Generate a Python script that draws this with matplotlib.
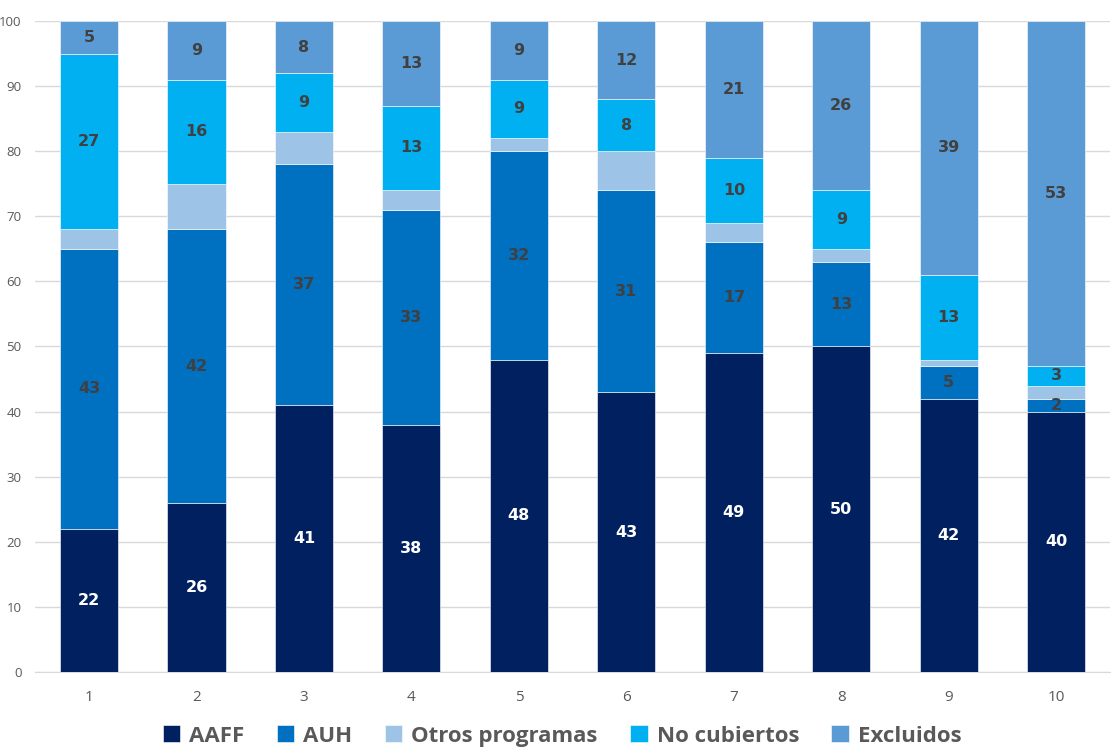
import matplotlib
matplotlib.use("Agg")
import matplotlib.pyplot as plt
import numpy as np

categories = ["1", "2", "3", "4", "5", "6", "7", "8", "9", "10"]
aaff = [22, 26, 41, 38, 48, 43, 49, 50, 42, 40]
auh = [43, 42, 37, 33, 32, 31, 17, 13, 5, 2]
otros = [3, 7, 5, 3, 2, 6, 3, 2, 1, 2]
no_cubiertos = [27, 16, 9, 13, 9, 8, 10, 9, 13, 3]
excluidos = [5, 9, 8, 13, 9, 12, 21, 26, 39, 53]

series = [
    ("AAFF", aaff, "#002060", "white", True),
    ("AUH", auh, "#0070C0", "#404040", True),
    ("Otros programas", otros, "#9DC3E6", "#404040", False),
    ("No cubiertos", no_cubiertos, "#00B0F0", "#404040", True),
    ("Excluidos", excluidos, "#5B9BD5", "#404040", True),
]

plt.rcParams["font.family"] = ["Open Sans", "DejaVu Sans"]

W, H = 1113, 756
fig = plt.figure(figsize=(W / 100, H / 100), dpi=100)
ax = fig.add_axes([35.3 / W, 84 / H, 1074.7 / W, 651 / H])

x = np.arange(1, len(categories) + 1)
bottom = np.zeros(len(categories))
for name, vals, color, tcolor, show in series:
    vals = np.array(vals, dtype=float)
    ax.bar(x, vals, width=0.54, bottom=bottom, color=color,
           edgecolor="white", linewidth=0.4, label=name, zorder=3)
    if show:
        for xi, b, v in zip(x, bottom, vals):
            ax.text(xi, b + v / 2, f"{int(v)}", ha="center", va="center",
                    fontsize=11.5, fontweight="bold", color=tcolor,
                    family=["DejaVu Sans"], zorder=4)
    bottom += vals

ax.set_xlim(0.5, 10.5)
ax.set_ylim(0, 100)
ax.set_yticks(np.arange(0, 101, 10))
ax.set_xticks(x)
ax.set_xticklabels(categories)
ax.grid(axis="y", color="#D9D9D9", linewidth=1, zorder=0)
for s in ["top", "right", "left"]:
    ax.spines[s].set_visible(False)
ax.spines["bottom"].set_color("#D9D9D9")
ax.tick_params(axis="both", length=0, colors="#595959")
ax.tick_params(axis="y", labelsize=9.5, pad=10)
ax.tick_params(axis="x", labelsize=11, pad=13)

leg = fig.legend(loc="center", bbox_to_anchor=(0.505, 20 / H), ncol=5,
                 frameon=False, fontsize=16, handlelength=0.8, handleheight=0.8,
                 handletextpad=0.4, columnspacing=1.45)
for t in leg.get_texts():
    t.set_color("#595959")
    t.set_fontweight("bold")

fig.savefig("out.png", dpi=100)
